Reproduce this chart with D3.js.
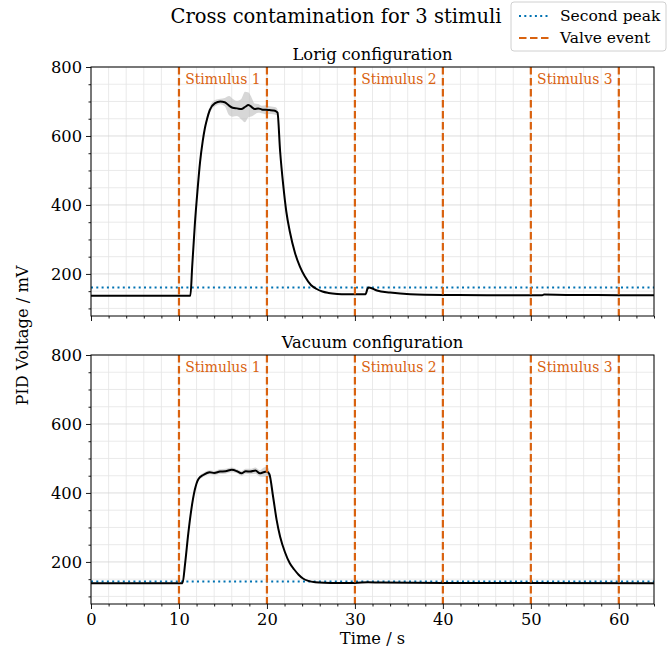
<!DOCTYPE html>
<html>
<head>
<meta charset="utf-8">
<script src="https://cdn.jsdelivr.net/npm/d3@7"></script>
<style>
  body { margin: 0; background: #fff; }
  svg { display: block; font-family: "DejaVu Serif", serif; }
</style>
</head>
<body>
<div id="chart"></div>
<script>
// Lorig configuration: mean trace and spread
const lorigTime = [0, 11.3, 11.5, 11.8, 12.1, 12.4, 12.7, 12.95, 13.2, 13.5, 14.1, 14.7, 15.2, 15.7, 16.1, 16.6, 17.1, 17.5, 17.9, 18.3, 18.6, 19.0, 19.4, 19.9, 20.3, 20.7, 21.0, 21.2, 21.5, 21.85, 22.2, 22.6, 23.2, 23.75, 24.3, 25.0, 25.6, 26.3, 27, 28, 29, 30, 31.2, 31.45, 31.6, 32.5, 34, 36.3, 40, 45, 51.3, 51.5, 54, 60, 64]
const lorigMean = [137, 137, 220, 342, 440, 525, 585, 623, 650, 675, 695, 700, 698, 688, 682, 680, 678, 684, 690, 683, 678, 680, 677, 676, 675, 674, 672, 668, 555, 458, 381, 323, 260, 221, 193, 168, 157, 149, 145, 142, 141, 141, 141, 158, 161, 152, 146, 141, 139, 138.5, 138.5, 140, 139, 138.5, 138]
const lorigStd = [1, 1, 2, 3, 3, 4, 5, 6, 8, 9, 9, 8, 12, 28, 26, 22, 30, 44, 36, 26, 16, 13, 11, 13, 11, 11, 11, 9, 5, 3, 2, 2, 1, 1, 1, 1, 1, 1, 1, 1, 1, 1, 1, 1, 1, 1, 1, 1, 1, 1, 1, 1, 1, 1, 1]

// Vacuum configuration: mean trace and spread
const vacuumTime = [0, 10.4, 10.7, 11.06, 11.4, 11.8, 12.2, 12.76, 13.5, 14.0, 14.66, 15.3, 16.0, 16.6, 17.1, 17.6, 18.1, 18.7, 19.2, 19.6, 19.97, 20.27, 20.7, 21.1, 21.5, 22.05, 22.6, 23.1, 23.6, 24.1, 24.7, 25.5, 26.5, 28, 30, 31.5, 33, 40, 50, 64]
const vacuumMean = [138, 138, 196, 283, 351, 409, 440, 452, 460, 458, 462, 463, 467, 463, 457, 463, 462, 465, 457, 460, 462, 455, 389, 322, 273, 228, 196, 178, 163, 152, 145, 141, 139.5, 139, 139, 141, 140, 139, 139, 138]
const vacuumStd = [1, 1, 2, 2, 3, 3, 5, 6, 6, 6, 7, 7, 7, 6, 7, 7, 8, 9, 9, 13, 15, 10, 4, 3, 2, 2, 1, 1, 1, 1, 1, 1, 1, 1, 1, 1, 1, 1, 1, 1]

// Event markers and labels
const valveTimes = [10, 20, 30, 40, 50, 60]
const stimulusLabels = ["Stimulus 1", "Stimulus 2", "Stimulus 3"]
const stimulusCenters = [15, 35, 55]
const secondPeak = [161, 143]
const panelTitles = ["Lorig configuration", "Vacuum configuration"]
const yTicks = [200, 400, 600, 800]
const xTicks = [0, 10, 20, 30, 40, 50, 60]

const WIDTH = 672
const HEIGHT = 651
const PLOT = {LEFT: 91, RIGHT: 654}
const PANELS = [{TOP: 67, BOTTOM: 316}, {TOP: 355, BOTTOM: 604}]
const ORANGE = "#d9620f"
const BLUE = "#0072b2"
const FONT = 16.3

let svg = d3.select("#chart").append("svg")
    .attr("width", WIDTH)
    .attr("height", HEIGHT)

let xScale = d3.scaleLinear().domain([0, 64]).range([PLOT.LEFT, PLOT.RIGHT])

let series = [
    {time: lorigTime, mean: lorigMean, std: lorigStd},
    {time: vacuumTime, mean: vacuumMean, std: vacuumStd}
]

PANELS.forEach(function(panel, i) {
    let yScale = d3.scaleLinear().domain([78, 800]).range([panel.BOTTOM, panel.TOP])
    let g = svg.append("g")

    // grid, minor then major
    let xMinor = d3.range(0, 65, 2)
    let yMinor = d3.range(100, 801, 50)
    g.selectAll(".vgrid").data(xMinor).enter().append("line")
        .attr("x1", d => xScale(d)).attr("x2", d => xScale(d))
        .attr("y1", panel.TOP).attr("y2", panel.BOTTOM)
        .attr("stroke", d => d % 10 === 0 ? "#d4d4d4" : "#e4e4e4").attr("stroke-width", 0.8)
    g.selectAll(".hgrid").data(yMinor).enter().append("line")
        .attr("y1", d => yScale(d)).attr("y2", d => yScale(d))
        .attr("x1", PLOT.LEFT).attr("x2", PLOT.RIGHT)
        .attr("stroke", d => d % 200 === 0 ? "#d4d4d4" : "#e4e4e4").attr("stroke-width", 0.8)

    let s = series[i]
    let pts = s.time.map((t, k) => ({t: t, m: s.mean[k], sd: s.std[k]}))

    // spread band
    g.append("path").datum(pts)
        .attr("d", d3.area().x(d => xScale(d.t)).y0(d => yScale(d.m - d.sd)).y1(d => yScale(d.m + d.sd)).curve(d3.curveMonotoneX))
        .attr("fill", "#bdbdbd").attr("opacity", 0.6)

    // second peak level
    g.append("line")
        .attr("x1", PLOT.LEFT).attr("x2", PLOT.RIGHT)
        .attr("y1", yScale(secondPeak[i])).attr("y2", yScale(secondPeak[i]))
        .attr("stroke", BLUE).attr("stroke-width", 2).attr("stroke-dasharray", "2,3.3")

    // mean trace
    g.append("path").datum(pts)
        .attr("d", d3.line().x(d => xScale(d.t)).y(d => yScale(d.m)).curve(d3.curveMonotoneX))
        .attr("fill", "none").attr("stroke", "#000").attr("stroke-width", 2)

    // valve events
    g.selectAll(".valve").data(valveTimes).enter().append("line")
        .attr("x1", d => xScale(d)).attr("x2", d => xScale(d))
        .attr("y1", panel.TOP).attr("y2", panel.BOTTOM)
        .attr("stroke", ORANGE).attr("stroke-width", 2.2).attr("stroke-dasharray", "7.5,3.5")

    g.selectAll(".stim").data(stimulusLabels).enter().append("text")
        .attr("x", (d, k) => xScale(stimulusCenters[k]))
        .attr("y", yScale(751))
        .attr("text-anchor", "middle")
        .attr("font-size", 13.9)
        .attr("fill", ORANGE)
        .text(d => d)

    // axes
    let yAxis = d3.axisLeft(yScale).tickValues(yTicks).tickSize(5).tickPadding(4)
    let yAxisMinor = d3.axisLeft(yScale).tickValues(yMinor.filter(v => v % 200 !== 0)).tickSize(2.5).tickFormat("")
    let xAxis = d3.axisBottom(xScale).tickValues(xTicks).tickSize(5).tickPadding(4)
    if (i === 0) xAxis.tickFormat("")
    let xAxisMinor = d3.axisBottom(xScale).tickValues(xMinor.filter(v => v % 10 !== 0)).tickSize(2.5).tickFormat("")

    g.append("g").attr("transform", "translate(" + PLOT.LEFT + ",0)").call(yAxis)
    g.append("g").attr("transform", "translate(" + PLOT.LEFT + ",0)").call(yAxisMinor)
    g.append("g").attr("transform", "translate(0," + panel.BOTTOM + ")").call(xAxis)
    g.append("g").attr("transform", "translate(0," + panel.BOTTOM + ")").call(xAxisMinor)
    g.selectAll(".domain").remove()
    g.selectAll(".tick text").attr("font-family", "DejaVu Serif").attr("font-size", FONT).attr("fill", "#000")
    g.selectAll(".tick line").attr("stroke", "#000").attr("stroke-width", 0.9)

    // frame
    g.append("rect")
        .attr("x", PLOT.LEFT).attr("y", panel.TOP)
        .attr("width", PLOT.RIGHT - PLOT.LEFT).attr("height", panel.BOTTOM - panel.TOP)
        .attr("fill", "none").attr("stroke", "#000").attr("stroke-width", 1)

    g.append("text")
        .attr("x", (PLOT.LEFT + PLOT.RIGHT) / 2).attr("y", panel.TOP - 7)
        .attr("text-anchor", "middle").attr("font-size", FONT)
        .text(panelTitles[i])
})

// axis labels and title
svg.append("text")
    .attr("x", (PLOT.LEFT + PLOT.RIGHT) / 2).attr("y", 644)
    .attr("text-anchor", "middle").attr("font-size", FONT)
    .text("Time / s")

svg.append("text")
    .attr("transform", "translate(28," + (PANELS[0].TOP + PANELS[1].BOTTOM) / 2 + ") rotate(-90)")
    .attr("text-anchor", "middle").attr("font-size", FONT)
    .text("PID Voltage / mV")

svg.append("text")
    .attr("x", 336).attr("y", 23)
    .attr("text-anchor", "middle").attr("font-size", 19.5)
    .text("Cross contamination for 3 stimuli")

// legend
let legend = svg.append("g").attr("transform", "translate(511,2)")
legend.append("rect")
    .attr("width", 155).attr("height", 49).attr("rx", 3)
    .attr("fill", "#fff").attr("fill-opacity", 0.8).attr("stroke", "#d0d0d0")
let legendItems = [
    {label: "Second peak", color: BLUE, dash: "2,3.3"},
    {label: "Valve event", color: ORANGE, dash: "7.5,3.5"}
]
legendItems.forEach(function(item, k) {
    let y = 14 + k * 22
    legend.append("line")
        .attr("x1", 8).attr("x2", 38).attr("y1", y).attr("y2", y)
        .attr("stroke", item.color).attr("stroke-width", 2).attr("stroke-dasharray", item.dash)
    legend.append("text")
        .attr("x", 49).attr("y", y + 5)
        .attr("font-size", 15.5)
        .text(item.label)
})
</script>
</body>
</html>
